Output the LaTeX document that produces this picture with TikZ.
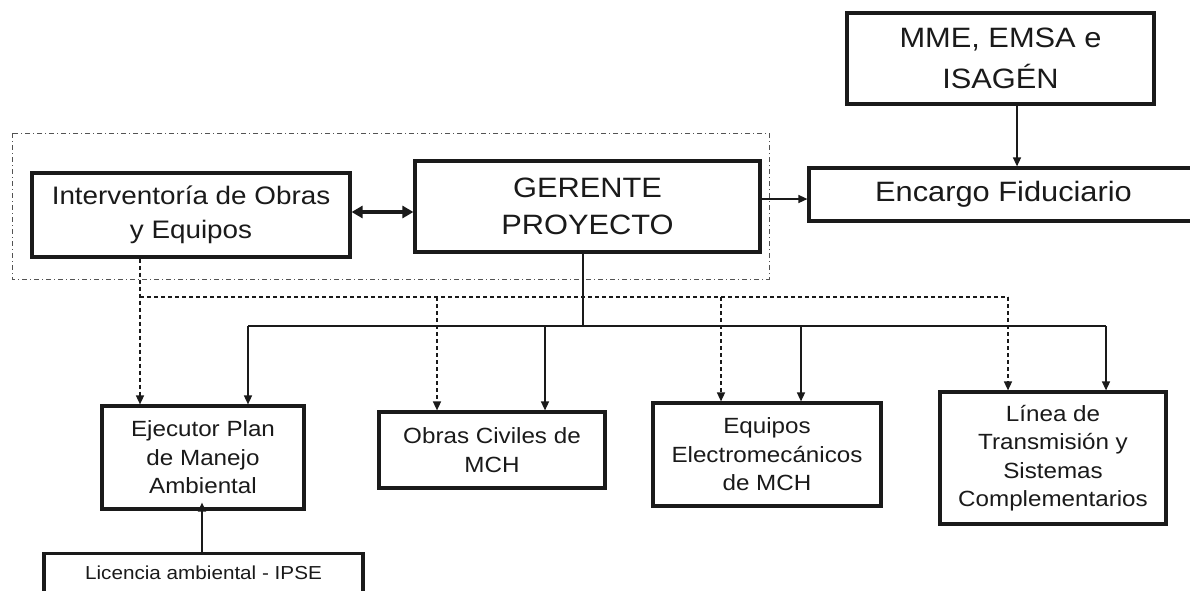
\documentclass[tikz,border=0pt]{standalone}
\usepackage{fontspec}
\setmainfont{Liberation Sans}[FakeStretch=1.1]
\usetikzlibrary{arrows.meta}
\definecolor{ink}{HTML}{1A1A1A}
\tikzset{
  box/.style={draw=ink, line width=3.2pt, fill=white, inner sep=0pt, align=center, text=ink},
  big/.style={font=\fontsize{28}{37}\selectfont},
  mid/.style={font=\fontsize{25.3}{34}\selectfont},
  small/.style={font=\fontsize{22}{28.5}\selectfont},
  arr/.style={draw=ink, line width=1.5pt, -{Triangle[length=9pt,width=8pt]}},
  conn/.style={draw=ink, line width=1.5pt},
  dsh/.style={draw=ink, line width=1.5pt, dash pattern=on 4pt off 3pt},
  darr/.style={dsh, -{Triangle[length=9pt,width=8pt]}},
  grp/.style={draw=ink!75, line width=1pt, dash pattern=on 5pt off 3pt on 1pt off 3pt},
  dbl/.style={draw=ink, line width=3.8pt, {Triangle[length=11pt,width=12pt]}-{Triangle[length=11pt,width=12pt]}}
}
\begin{document}
\begin{tikzpicture}[x=1pt,y=-1pt]
\clip (0,0) rectangle (1190,590);
\fill[white] (0,0) rectangle (1190,590);

% group frame
\draw[grp] (12,133) rectangle (769,279);

% boxes
\node[box, big, minimum width=307pt, minimum height=91pt] (mme) at (1000.5,58.5) {MME, EMSA e\\[4pt]ISAGÉN};
\node[box, big, minimum width=389pt, minimum height=53pt] (enc) at (1003.5,194.5) {Encargo Fiduciario};
\node[box, mid, minimum width=318pt, minimum height=84pt] (int) at (191,215) {Interventoría de Obras\\y Equipos};
\node[box, big, minimum width=345pt, minimum height=91pt] (ger) at (587.5,206.5) {GERENTE\\PROYECTO};
\node[box, small, minimum width=202pt, minimum height=103pt] (eje) at (203,457.5) {Ejecutor Plan\\de Manejo\\Ambiental};
\node[box, small, minimum width=226pt, minimum height=76pt] (obr) at (492,450) {Obras Civiles de\\MCH};
\node[box, small, minimum width=228pt, minimum height=103pt] (equ) at (767,454.5) {Equipos\\Electromecánicos\\de MCH};
\node[box, small, minimum width=226pt, minimum height=132pt] (lin) at (1053,458) {Línea de\\Transmisión y\\Sistemas\\Complementarios};
\node[box, font=\fontsize{18.8}{24}\selectfont, minimum width=319pt, text height=14pt, text depth=40pt, inner ysep=12pt, anchor=north] (lic) at (203.5,552) {Licencia ambiental - IPSE};

% helper coordinates
\coordinate (xm) at (1017,0);
\coordinate (yf) at (0,199);
\coordinate (yd) at (0,212);
\coordinate (gx) at (583,0);
\coordinate (bus) at (0,326);
\coordinate (dbus) at (0,297);
\coordinate (s1) at (248,0);
\coordinate (s2) at (545,0);
\coordinate (s3) at (801,0);
\coordinate (s4) at (1106,0);
\coordinate (d0) at (140,0);
\coordinate (d2) at (437,0);
\coordinate (d3) at (721,0);
\coordinate (d4) at (1008,0);
\coordinate (lx) at (202,0);

% top connectors
\draw[arr] (xm |- mme.south) -- (xm |- enc.north);
\draw[arr] (ger.east |- yf) -- (enc.west |- yf);
\draw[dbl] (int.east |- yd) -- (ger.west |- yd);

% solid tree
\draw[conn] (gx |- ger.south) -- (gx |- bus);
\draw[conn] (s1 |- bus) -- (s4 |- bus);
\draw[arr] (s1 |- bus) -- (s1 |- eje.north);
\draw[arr] (s2 |- bus) -- (s2 |- obr.north);
\draw[arr] (s3 |- bus) -- (s3 |- equ.north);
\draw[arr] (s4 |- bus) -- (s4 |- lin.north);

% dashed tree
\draw[darr] (d0 |- int.south) -- (d0 |- eje.north);
\draw[dsh] (d0 |- dbus) -- (d4 |- dbus);
\draw[darr] (d2 |- dbus) -- (d2 |- obr.north);
\draw[darr] (d3 |- dbus) -- (d3 |- equ.north);
\draw[darr] (d4 |- dbus) -- (d4 |- lin.north);

% licencia
\draw[arr] (lx |- lic.north) -- ([yshift=8pt]lx |- eje.south);
\end{tikzpicture}
\end{document}
